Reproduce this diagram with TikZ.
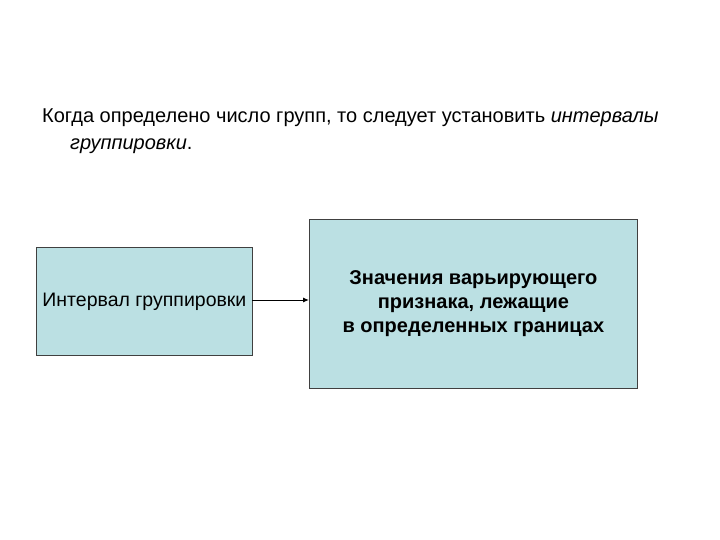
\documentclass[tikz,border=0pt]{standalone}
\usepackage{fontspec}
\setmainfont{Liberation Sans}
\usetikzlibrary{arrows.meta}
\definecolor{boxfill}{RGB}{187,224,227}
\tikzset{box/.style={draw=black!75,line width=0.8pt,fill=boxfill,anchor=north west,align=center,inner sep=0pt}}
\begin{document}
\begin{tikzpicture}[x=1pt,y=-1pt]
\useasboundingbox (0,0) rectangle (720,540);
\node[anchor=west,inner sep=0,font=\fontsize{20}{24}\selectfont] (t1) at (42,118) {Когда определено число групп, то следует установить \textit{интервалы}};
\node[anchor=west,inner sep=0,font=\fontsize{20}{24}\selectfont] (t2) at (70,146) {\textit{группировки}.};
\node[box,minimum width=216pt,minimum height=108pt,font=\fontsize{19.5}{24}\selectfont] (a) at (36,247) {Интервал группировки};
\node[box,minimum width=328pt,minimum height=169pt,font=\fontsize{20}{24}\selectfont\bfseries] (b) at (309,219) {\raisebox{0pt}{}Значения варьирующего\\признака, лежащие\\в определенных границах};
\coordinate (p) at (252,300);
\draw[line width=1pt,-{Latex[length=6pt,width=5pt]}] (p) -- (p -| b.west);
\end{tikzpicture}
\end{document}
